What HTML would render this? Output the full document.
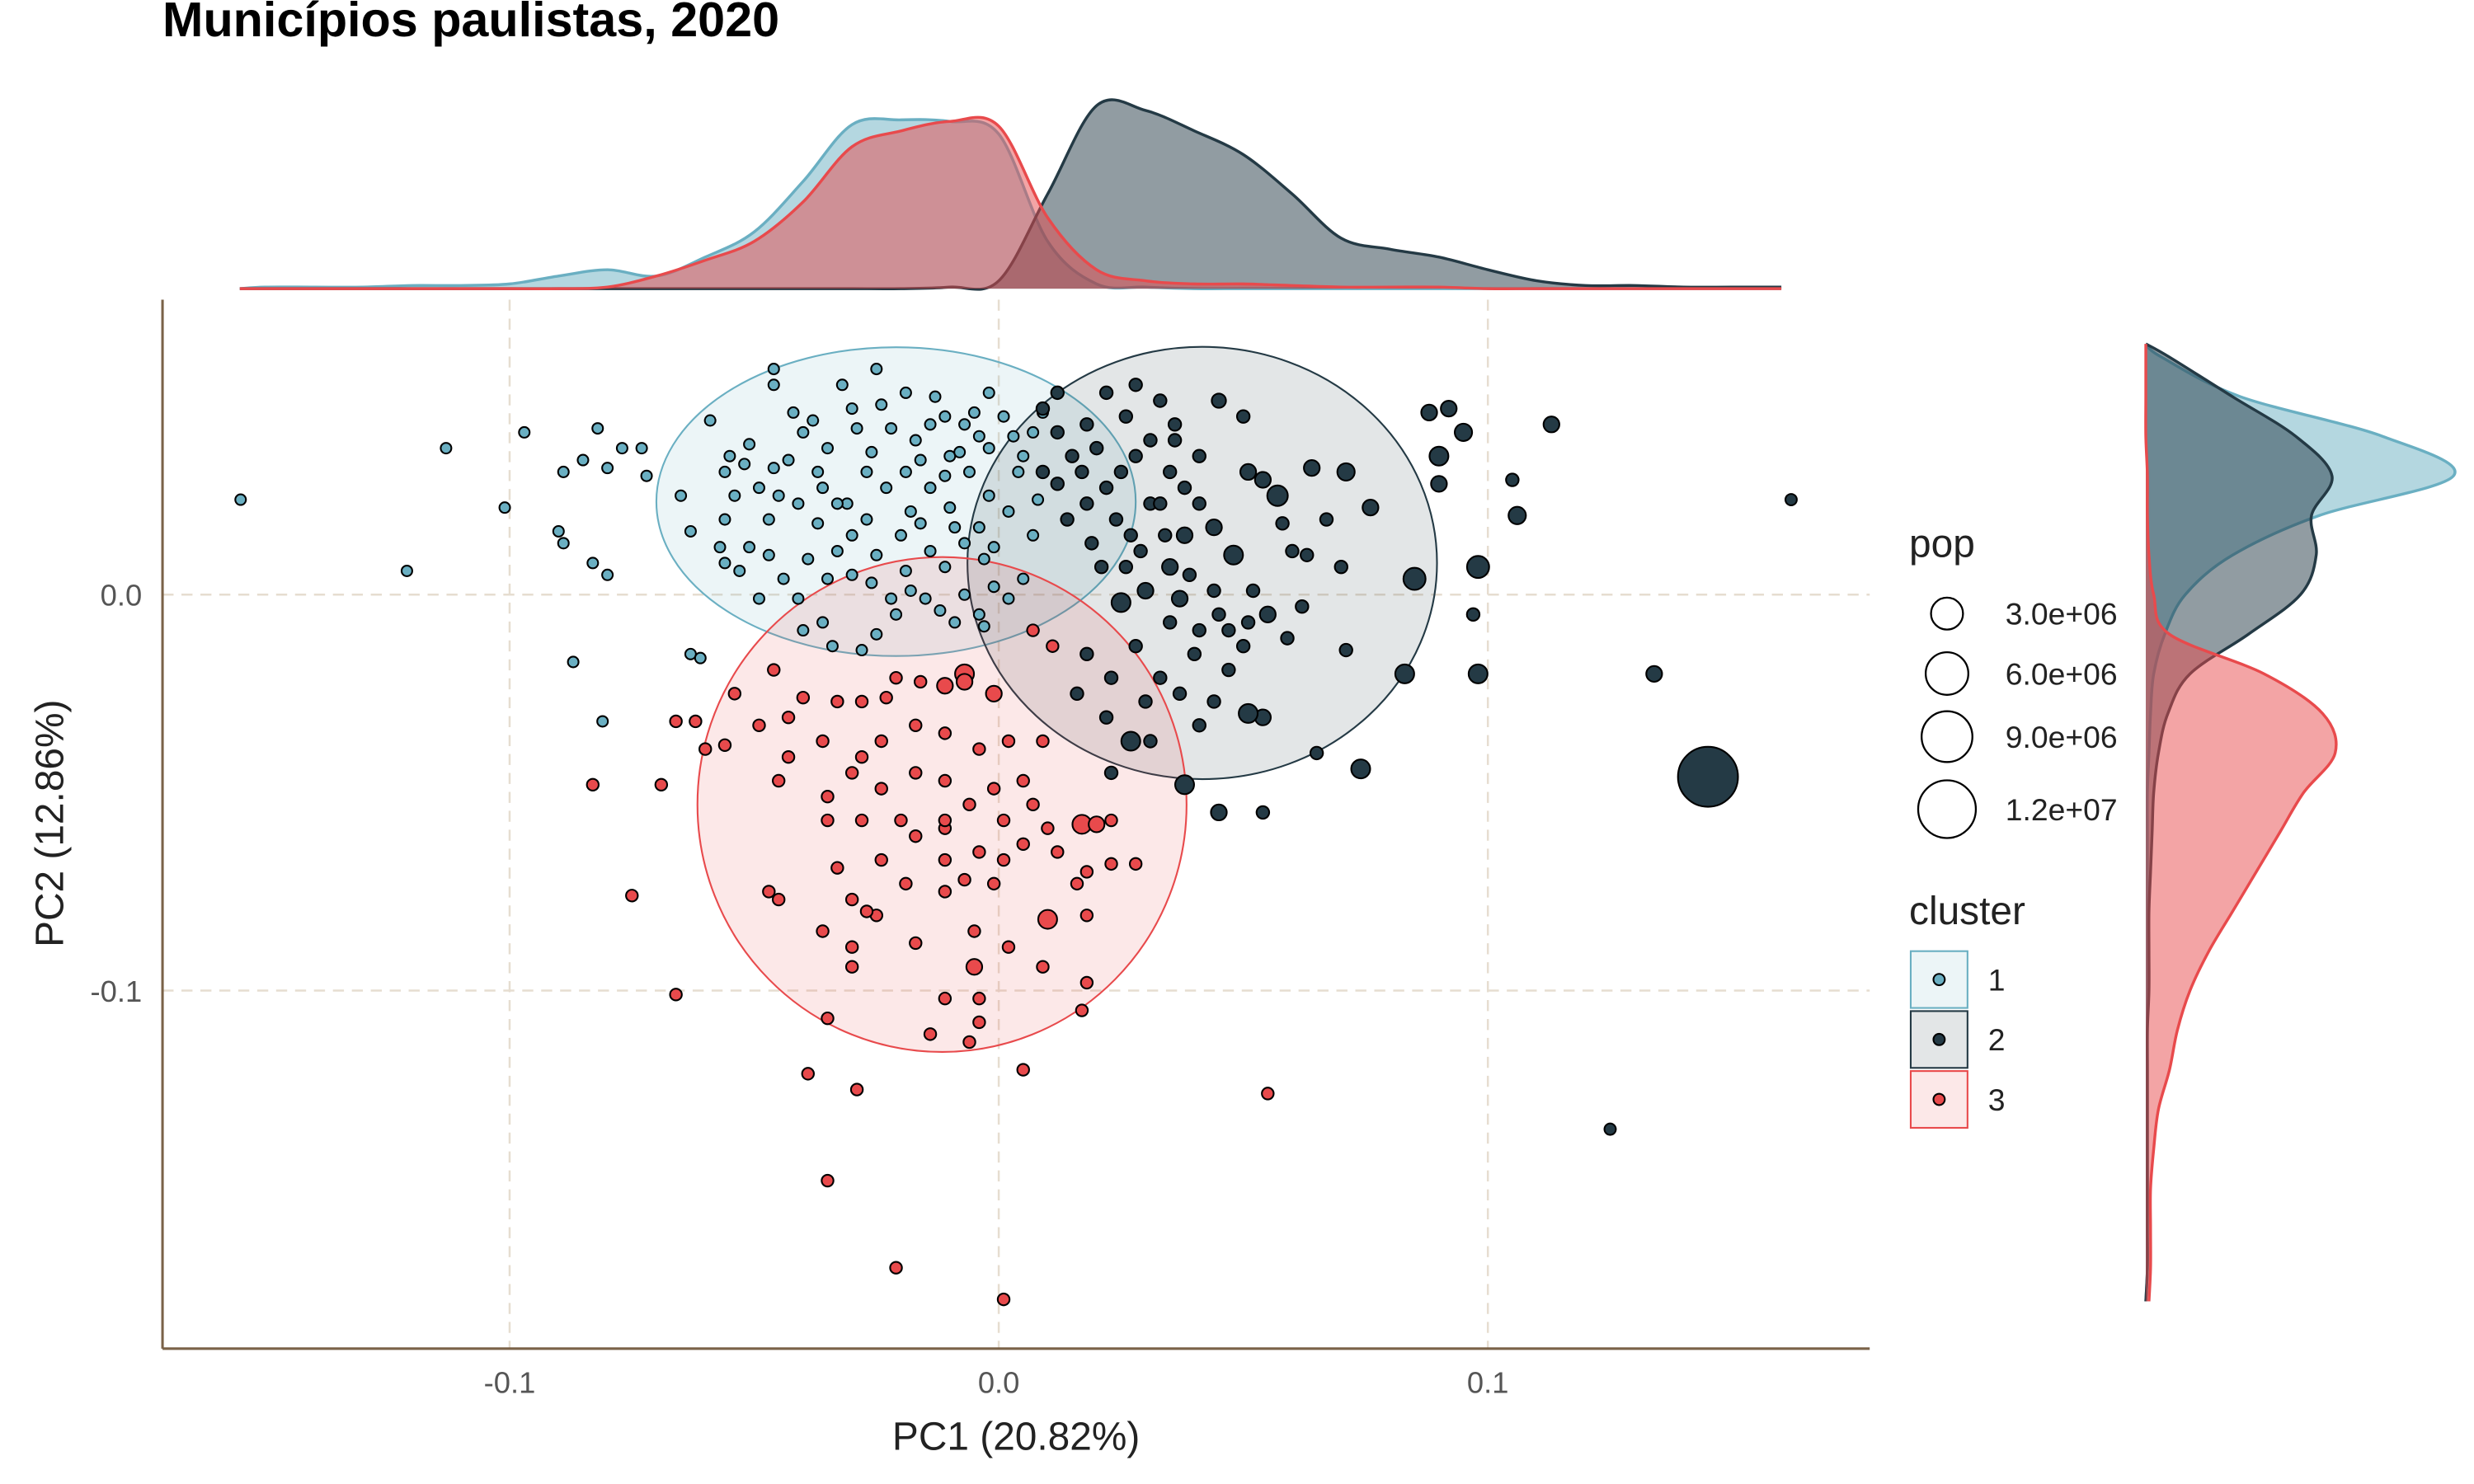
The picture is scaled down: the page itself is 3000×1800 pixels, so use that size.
<!DOCTYPE html>
<html><head><meta charset="utf-8">
<style>
html,body{margin:0;padding:0;background:#fff;}
svg{display:block;font-family:"Liberation Sans",Arial,sans-serif;}
</style></head>
<body>
<svg id="chart" width="3000" height="1800" viewBox="0 0 1568 940.8" preserveAspectRatio="none" xmlns="http://www.w3.org/2000/svg">
<rect width="1568" height="941" fill="#fff"/>
<text x="103" y="23" font-size="31" font-weight="bold" fill="#000">Municípios paulistas, 2020</text>
<g id="grid"></g>
<g id="ellipses"></g>
<g id="points"></g>
<g id="topdens"></g>
<g id="rightdens"></g>
<line x1="103" y1="855" x2="1185" y2="855" stroke="#7a6248" stroke-width="1.6"/>
<line x1="103" y1="190" x2="103" y2="855" stroke="#7a6248" stroke-width="1.6"/>
<g id="ticks"></g>
<text x="644" y="919" font-size="25" text-anchor="middle" fill="#222">PC1 (20.82%)</text>
<text transform="translate(40,522) rotate(-90)" font-size="25" text-anchor="middle" fill="#222">PC2 (12.86%)</text>
<g id="legend">
<text x="1210" y="353" font-size="25" fill="#222">pop</text>
<text x="1210" y="586" font-size="25" fill="#222">cluster</text>
</g>
</svg>
<script>
// ---- data ----
const xTicks = [-0.1, 0.0, 0.1];
const xTickLabels = ["-0.1", "0.0", "0.1"];
const yTicks = [0.0, -0.1];
const yTickLabels = ["0.0", "-0.1"];
const clusters = ["1", "2", "3"];
const popBreaks = [3e6, 6e6, 9e6, 1.2e7];
const popLabels = ["3.0e+06", "6.0e+06", "9.0e+06", "1.2e+07"];

// cluster 1 points: [PC1, PC2, pop]
const cluster1 = [
[-0.155,0.024,15e3],[-0.113,0.037,15e3],[-0.097,0.041,15e3],[-0.101,0.022,15e3],[-0.121,0.006,15e3],
[-0.089,0.031,15e3],[-0.085,0.034,15e3],[-0.080,0.032,15e3],[-0.082,0.042,15e3],[-0.077,0.037,15e3],
[-0.073,0.037,15e3],[-0.090,0.016,15e3],[-0.089,0.013,15e3],[-0.083,0.008,15e3],[-0.080,0.005,15e3],
[-0.087,-0.017,15e3],[-0.081,-0.032,15e3],[-0.072,0.030,15e3],[-0.063,-0.015,15e3],[-0.061,-0.016,15e3],
[-0.059,0.044,15e3],[-0.056,0.031,15e3],[-0.055,0.035,15e3],[-0.051,0.038,15e3],[-0.046,0.032,15e3],
[-0.054,0.025,15e3],[-0.065,0.025,15e3],[-0.063,0.016,15e3],[-0.057,0.012,15e3],[-0.056,0.008,15e3],
[-0.046,0.057,15e3],[-0.046,0.053,15e3],[-0.042,0.046,15e3],[-0.040,0.041,15e3],[-0.037,0.031,15e3],
[-0.035,0.037,15e3],[-0.032,0.053,15e3],[-0.029,0.042,15e3],[-0.025,0.057,15e3],[-0.024,0.048,15e3],
[-0.019,0.051,15e3],[-0.017,0.039,15e3],[-0.014,0.043,15e3],[-0.011,0.045,15e3],[-0.010,0.035,15e3],
[-0.007,0.043,15e3],[-0.004,0.040,15e3],[-0.002,0.051,15e3],[0.001,0.045,15e3],[0.005,0.035,15e3],
[0.007,0.041,15e3],[0.009,0.046,15e3],[-0.041,0.023,15e3],[-0.037,0.018,15e3],[-0.033,0.011,15e3],
[-0.030,0.005,15e3],[-0.026,0.003,15e3],[-0.022,-0.001,15e3],[-0.019,0.006,15e3],[-0.014,0.011,15e3],
[-0.011,0.007,15e3],[-0.007,0.000,15e3],[-0.004,-0.005,15e3],[-0.003,-0.008,15e3],[-0.041,-0.001,15e3],
[-0.044,0.004,15e3],[-0.039,0.009,15e3],[-0.036,-0.007,15e3],[-0.040,-0.009,15e3],[-0.034,-0.013,15e3],
[-0.028,-0.014,15e3],[-0.025,-0.010,15e3],[-0.021,-0.005,15e3],[-0.015,-0.001,15e3],[-0.012,-0.004,15e3],
[-0.009,-0.007,15e3],[-0.049,-0.001,15e3],[-0.053,0.006,15e3],[-0.047,0.019,15e3],[-0.036,0.027,15e3],
[-0.031,0.023,15e3],[-0.027,0.019,15e3],[-0.023,0.027,15e3],[-0.018,0.021,15e3],[-0.014,0.027,15e3],
[-0.010,0.022,15e3],[-0.006,0.031,15e3],[-0.002,0.025,15e3],[0.002,0.021,15e3],[0.004,0.031,15e3],
[0.007,0.015,15e3],[-0.019,0.031,15e3],[-0.016,0.034,15e3],[-0.027,0.031,15e3],[-0.033,0.023,15e3],
[-0.045,0.025,15e3],[-0.049,0.027,15e3],[-0.052,0.033,15e3],[-0.056,0.019,15e3],[-0.051,0.012,15e3],
[-0.007,0.013,15e3],[-0.003,0.009,15e3],[-0.001,0.002,15e3],[0.002,-0.001,15e3],[0.005,0.004,15e3],
[-0.030,0.047,15e3],[-0.022,0.042,15e3],[-0.013,0.050,15e3],[-0.005,0.046,15e3],[0.003,0.040,15e3],
[-0.008,0.036,15e3],[-0.026,0.036,15e3],[-0.038,0.044,15e3],[-0.043,0.034,15e3],[-0.020,0.015,15e3],
[-0.016,0.018,15e3],[-0.009,0.017,15e3],[-0.004,0.017,15e3],[-0.025,0.010,15e3],[-0.030,0.015,15e3],
[-0.035,0.004,15e3],[-0.018,0.001,15e3],[-0.001,0.012,15e3],[0.008,0.024,15e3],[-0.047,0.010,15e3],
[-0.011,0.030,15e3],[-0.002,0.037,15e3]
];
const cluster2 = [
[0.162,0.024,3e4],[0.134,-0.020,2.2e5],[0.145,-0.046,1.19e7],[0.125,-0.135,3e4],[0.113,0.043,2.2e5],
[0.106,0.020,3.3e5],[0.105,0.029,6.5e4],[0.098,0.007,8e5],[0.097,-0.005,6.5e4],[0.098,-0.020,4.6e5],
[0.090,0.035,4.6e5],[0.090,0.028,2.2e5],[0.088,0.046,2.2e5],[0.092,0.047,2.2e5],[0.095,0.041,3.3e5],
[0.083,-0.020,4.6e5],[0.085,0.004,8e5],[0.074,-0.044,4.6e5],[0.071,-0.014,6.5e4],[0.071,0.031,3.3e5],
[0.076,0.022,2.2e5],[0.070,0.007,6.5e4],[0.064,0.032,2.2e5],[0.065,-0.040,6.5e4],[0.057,0.025,6.2e5],
[0.054,0.029,2.2e5],[0.051,0.031,2.2e5],[0.045,0.049,1.3e5],[0.050,0.045,6.5e4],[0.038,-0.048,4.6e5],
[0.045,-0.055,2.2e5],[0.054,-0.055,6.5e4],[0.054,-0.031,2.2e5],[0.051,-0.030,4.6e5],[0.044,-0.027,6.5e4],
[0.047,-0.019,6.5e4],[0.041,-0.009,6.5e4],[0.037,-0.001,2.2e5],[0.035,0.007,2.2e5],[0.038,0.015,2.2e5],
[0.044,0.017,2.2e5],[0.048,0.010,4.6e5],[0.041,0.023,6.5e4],[0.031,0.023,6.5e4],[0.027,0.015,6.5e4],
[0.025,-0.002,4.6e5],[0.021,0.007,6.5e4],[0.018,0.023,6.5e4],[0.017,0.031,6.5e4],[0.018,0.043,6.5e4],
[0.022,0.051,6.5e4],[0.028,0.053,6.5e4],[0.033,0.049,6.5e4],[0.036,0.039,6.5e4],[0.041,0.035,6.5e4],
[0.025,0.031,6.5e4],[0.028,-0.013,6.5e4],[0.033,-0.021,6.5e4],[0.027,-0.037,4.6e5],[0.022,-0.031,6.5e4],
[0.037,-0.025,6.5e4],[0.055,-0.005,2.2e5],[0.059,-0.011,6.5e4],[0.062,-0.003,6.5e4],[0.047,-0.009,6.5e4],
[0.051,-0.007,6.5e4],[0.044,0.001,6.5e4],[0.041,-0.033,6.5e4],[0.031,-0.037,6.5e4],[0.023,-0.045,6.5e4],
[0.012,0.041,6.5e4],[0.009,0.031,6.5e4],[0.014,0.019,6.5e4],[0.009,0.047,6.5e4],[0.023,-0.021,6.5e4],
[0.016,-0.025,6.5e4],[0.035,0.031,6.5e4],[0.031,0.039,6.5e4],[0.038,0.027,6.5e4],[0.060,0.011,6.5e4],
[0.067,0.019,6.5e4],[0.012,0.051,6.5e4],[0.020,0.037,6.5e4],[0.026,0.007,6.5e4],[0.030,0.001,2.2e5],
[0.035,-0.007,6.5e4],
[0.015,0.035,6.5e4],[0.022,0.027,6.5e4],[0.028,0.035,6.5e4],[0.033,0.023,6.5e4],[0.019,0.013,6.5e4],
[0.024,0.019,6.5e4],[0.029,0.011,6.5e4],[0.034,0.015,6.5e4],[0.039,0.005,6.5e4],[0.045,-0.005,6.5e4],
[0.050,-0.013,6.5e4],[0.040,-0.015,6.5e4],[0.030,-0.027,6.5e4],[0.018,-0.015,6.5e4],[0.012,0.028,6.5e4],
[0.026,0.045,6.5e4],[0.036,0.043,6.5e4],[0.058,0.018,6.5e4],[0.063,0.010,6.5e4],[0.052,0.001,6.5e4]
];
const cluster3 = [
[-0.007,-0.020,4.6e5],[-0.001,-0.025,2.2e5],[-0.007,-0.022,2.2e5],[-0.011,-0.023,2.2e5],[-0.016,-0.022,4e4],
[-0.021,-0.021,4e4],[-0.023,-0.026,4e4],[-0.028,-0.027,4e4],[-0.033,-0.027,4e4],[-0.040,-0.026,4e4],
[-0.046,-0.019,4e4],[-0.054,-0.025,4e4],[-0.056,-0.038,4e4],[-0.062,-0.032,4e4],[-0.060,-0.039,4e4],
[-0.069,-0.048,4e4],[-0.066,-0.032,4e4],[-0.083,-0.048,4e4],[-0.075,-0.076,4e4],[-0.066,-0.101,4e4],
[-0.047,-0.075,4e4],[-0.045,-0.077,4e4],[-0.035,-0.107,4e4],[-0.039,-0.121,4e4],[-0.035,-0.148,4e4],
[-0.029,-0.125,4e4],[-0.021,-0.170,4e4],[0.001,-0.178,4e4],[0.005,-0.120,4e4],[0.055,-0.126,4e4],
[0.018,-0.098,4e4],[0.017,-0.105,4e4],[0.009,-0.094,4e4],[0.010,-0.082,4.6e5],[0.018,-0.081,4e4],
[0.023,-0.068,4e4],[0.028,-0.068,4e4],[0.018,-0.070,4e4],[0.017,-0.058,4.6e5],[0.020,-0.058,2.2e5],
[0.010,-0.059,4e4],[0.005,-0.063,4e4],[0.001,-0.067,4e4],[-0.001,-0.073,4e4],[-0.005,-0.085,4e4],
[-0.005,-0.094,2.2e5],[-0.004,-0.102,4e4],[-0.011,-0.102,4e4],[-0.014,-0.111,4e4],[-0.006,-0.113,4e4],
[-0.004,-0.108,4e4],[-0.017,-0.088,4e4],[-0.025,-0.081,4e4],[-0.030,-0.077,4e4],[-0.027,-0.080,4e4],
[-0.030,-0.089,4e4],[-0.030,-0.094,4e4],[-0.036,-0.085,4e4],[-0.033,-0.069,4e4],[-0.035,-0.057,4e4],
[-0.035,-0.051,4e4],[-0.030,-0.045,4e4],[-0.024,-0.049,4e4],[-0.020,-0.057,4e4],[-0.028,-0.057,4e4],
[-0.024,-0.067,4e4],[-0.017,-0.061,4e4],[-0.011,-0.059,4e4],[-0.006,-0.053,4e4],[-0.001,-0.049,4e4],
[0.005,-0.047,4e4],[0.009,-0.037,4e4],[0.002,-0.037,4e4],[-0.004,-0.039,4e4],[-0.011,-0.035,4e4],
[-0.017,-0.033,4e4],[-0.024,-0.037,4e4],[-0.028,-0.041,4e4],[-0.036,-0.037,4e4],[-0.043,-0.041,4e4],
[-0.045,-0.047,4e4],[-0.049,-0.033,4e4],[-0.043,-0.031,4e4],[-0.017,-0.045,4e4],[-0.011,-0.047,4e4],
[-0.004,-0.065,4e4],[-0.011,-0.067,4e4],[-0.019,-0.073,4e4],[-0.011,-0.075,4e4],[0.002,-0.089,4e4],
[0.007,-0.053,4e4],[0.012,-0.065,4e4],[0.016,-0.073,4e4],[0.007,-0.009,4e4],[0.011,-0.013,4e4],
[0.023,-0.057,4e4],[-0.011,-0.057,4e4],[0.001,-0.057,4e4],[-0.007,-0.072,4e4]
];
// ellipse params per cluster: [centerPC1, centerPC2, radiusPC1, radiusPC2]
const ellipse1 = [-0.021, 0.0235, 0.049, 0.039];
const ellipse2 = [0.0416, 0.008, 0.048, 0.0546];
const ellipse3 = [-0.0116, -0.053, 0.050, 0.0625];

// top marginal density on PC1 grid
const topGrid = [-0.16,-0.15,-0.14,-0.13,-0.12,-0.11,-0.10,-0.09,-0.08,-0.07,-0.06,-0.05,-0.04,-0.03,-0.02,-0.01,0,0.01,0.02,0.03,0.04,0.05,0.06,0.07,0.08,0.09,0.10,0.11,0.12,0.13,0.14,0.15,0.16];
const topDens1 = [0,1,1,1,2,2,3,8,12,8,20,36,68,104,107,106,98,30,3,1,0,0,0,0,0,0,0,0,0,0,0,0,0];
const topDens2 = [0,0,0,0,0,0,0,0,0,0,0,0,0,0,0,1,5,60,116,113,100,85,60,32,25,20,12,5,2,2,1,1,1];
const topDens3 = [0,0,0,0,0,0,0,0,1,8,18,30,55,90,100,106,103,45,12,5,3,3,2,1,1,1,0,0,0,0,0,0,0];
// right marginal density on PC2 grid
const rightGrid = [0.065,0.06,0.05,0.04,0.03,0.02,0.01,0,-0.01,-0.02,-0.03,-0.04,-0.05,-0.06,-0.07,-0.08,-0.09,-0.10,-0.11,-0.12,-0.13,-0.14,-0.15,-0.16,-0.17,-0.18];
const rightDens1 = [0,10,60,150,195,110,55,25,12,5,3,2,1,1,1,1,1,1,1,1,1,1,1,1,1,0];
const rightDens2 = [0,15,55,95,118,105,108,98,65,28,14,8,5,4,3,2,2,2,1,1,1,1,1,1,1,0];
const rightDens3 = [0,0,0,0,1,1,2,5,15,75,112,120,100,85,70,55,40,28,20,15,8,5,3,3,3,2];

// ---- scales ----
const NS = "http://www.w3.org/2000/svg";
function sx(v){ return 633 + v*3100; }
function sy(v){ return 377 - v*2510; }
function sr(p){ return 2.8 + 0.0047*Math.sqrt(p); }
const colors = ["#6aafc2", "#243a45", "#e84a4c"];
function mk(tag, attrs, parent){ const e=document.createElementNS(NS,tag); for(const k in attrs) e.setAttribute(k,attrs[k]); parent.appendChild(e); return e; }

// grid
const grid = document.getElementById('grid');
xTicks.forEach(t=>{
  const l = mk('line',{x1:sx(t),x2:sx(t),y1:190,y2:855,stroke:'#e6ddd0','stroke-width':1.3,'stroke-dasharray':'7,5'},grid);
  
  
});
yTicks.forEach(t=>{
  const l = mk('line',{x1:103,x2:1185,y1:sy(t),y2:sy(t),stroke:'#e6ddd0','stroke-width':1.3,'stroke-dasharray':'7,5'},grid);
  
  
});
const ticks = document.getElementById('ticks');
xTicks.forEach((t,i)=>{
  const tx = mk('text',{x:sx(t),y:883,'font-size':19,'text-anchor':'middle',fill:'#555'},ticks);
  tx.textContent = xTickLabels[i];
  
  
});
yTicks.forEach((t,i)=>{
  const tx = mk('text',{x:90,y:sy(t)+7,'font-size':19,'text-anchor':'end',fill:'#555'},ticks);
  tx.textContent = yTickLabels[i];
  
  
});

// ellipses
const eg = document.getElementById('ellipses');
[ellipse1, ellipse2, ellipse3].forEach((e,i)=>{
  const el = mk('ellipse',{cx:sx(e[0]),cy:sy(e[1]),rx:e[2]*3100,ry:e[3]*2510,fill:colors[i],'fill-opacity':0.13,stroke:colors[i],'stroke-width':1.1},eg);
  
  
});

// points
const pg = document.getElementById('points');
[cluster1, cluster2, cluster3].forEach((arr,i)=>{
  arr.forEach(d=>{
    const c = mk('circle',{cx:sx(d[0]),cy:sy(d[1]),r:sr(d[2]),fill:colors[i],stroke:'#000','stroke-width':1.1},pg);
    
    
  });
});

// smooth path helper
function smooth(pts){
  let d = 'M'+pts[0][0]+','+pts[0][1];
  for(let i=0;i<pts.length-1;i++){
    const p0=pts[Math.max(0,i-1)], p1=pts[i], p2=pts[i+1], p3=pts[Math.min(pts.length-1,i+2)];
    const c1=[p1[0]+(p2[0]-p0[0])/6, p1[1]+(p2[1]-p0[1])/6];
    const c2=[p2[0]-(p3[0]-p1[0])/6, p2[1]-(p3[1]-p1[1])/6];
    d += ' C'+c1[0]+','+c1[1]+' '+c2[0]+','+c2[1]+' '+p2[0]+','+p2[1];
  }
  return d;
}
// top densities (baseline y=183)
const tg = document.getElementById('topdens');
[topDens1, topDens2, topDens3].forEach((dens,i)=>{
  const pts = topGrid.map((g,j)=>[Math.max(152,Math.min(1135,sx(g))), 183 - dens[j]]);
  const line = smooth(pts);
  const f = mk('path',{d:line+' L'+pts[pts.length-1][0]+',183 L'+pts[0][0]+',183 Z',fill:colors[i],'fill-opacity':0.5,stroke:'none'},tg);
  
  
  const s = mk('path',{d:line,fill:'none',stroke:colors[i],'stroke-width':1.8},tg);
  
  
});
// right densities (baseline x=1360)
const rg = document.getElementById('rightdens');
[rightDens1, rightDens2, rightDens3].forEach((dens,i)=>{
  const pts = rightGrid.map((g,j)=>[1360 + dens[j], Math.max(218,Math.min(825,sy(g)))]);
  const line = smooth(pts);
  const f = mk('path',{d:line+' L1360,'+pts[pts.length-1][1]+' L1360,'+pts[0][1]+' Z',fill:colors[i],'fill-opacity':0.5,stroke:'none'},rg);
  
  
  const s = mk('path',{d:line,fill:'none',stroke:colors[i],'stroke-width':1.8},rg);
  
  
});

// legend
const lg = document.getElementById('legend');
const popY = [389, 427, 467, 513];
popBreaks.forEach((p,i)=>{
  const c = mk('circle',{cx:1234,cy:popY[i],r:sr(p)-0.8,fill:'none',stroke:'#000','stroke-width':1.2},lg);
  
  
  const t = mk('text',{x:1271,y:popY[i]+7,'font-size':19.5,fill:'#222'},lg);
  t.textContent = popLabels[i];
  
  
});
clusters.forEach((c,i)=>{
  const y0 = 603 + i*38;
  const r = mk('rect',{x:1211,y:y0,width:36,height:36,fill:colors[i],'fill-opacity':0.13,stroke:colors[i],'stroke-width':1.1},lg);
  
  
  const d = mk('circle',{cx:1229,cy:y0+18,r:3.6,fill:colors[i],stroke:'#000','stroke-width':1.1},lg);
  
  
  const t = mk('text',{x:1260,y:y0+25,'font-size':19.5,fill:'#222'},lg);
  t.textContent = c;
  
  
});
</script>
</body></html>
